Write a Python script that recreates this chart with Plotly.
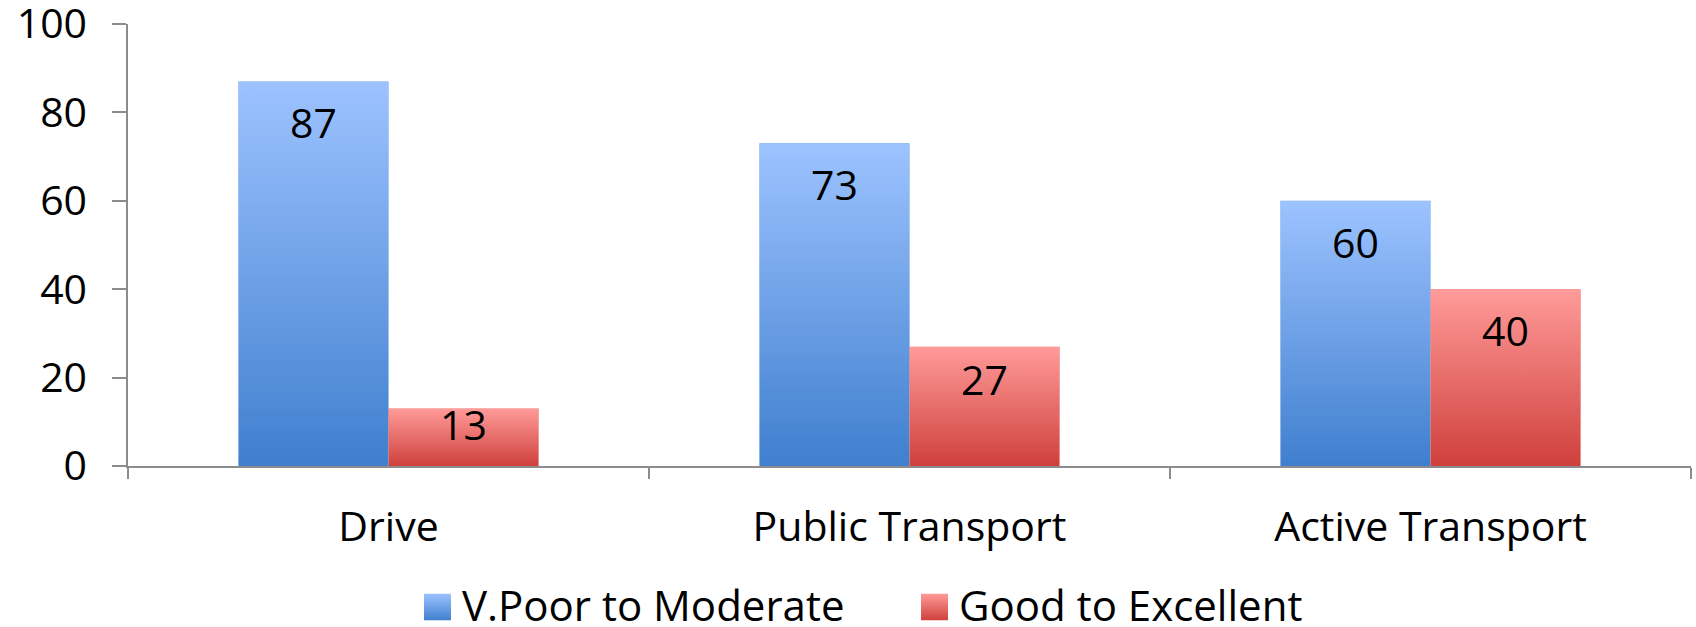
import base64
import plotly.graph_objects as go

categories = ["Drive", "Public Transport", "Active Transport"]
series_names = ["V.Poor to Moderate", "Good to Excellent"]
poor_to_moderate = [87, 73, 60]
good_to_excellent = [13, 27, 40]
y_tick_vals = [0, 20, 40, 60, 80, 100]

FONT = "Open Sans, Carlito, Calibri, sans-serif"
TOP_COLORS = ["#9DC3FF", "#FF9B99"]
BOTTOM_COLORS = ["#3F7FCE", "#CF403C"]
MID_COLORS = ["#6EA1E7", "#E86F6C"]
series_values = [poor_to_moderate, good_to_excellent]


def gradient_uri(top, bottom):
    svg = (
        '<svg xmlns="http://www.w3.org/2000/svg" width="10" height="100" '
        'viewBox="0 0 10 100" preserveAspectRatio="none">'
        '<defs><linearGradient id="g" x1="0" y1="0" x2="0" y2="1">'
        f'<stop offset="0" stop-color="{top}"/><stop offset="1" stop-color="{bottom}"/>'
        '</linearGradient></defs><rect width="10" height="100" fill="url(#g)"/></svg>'
    )
    return "data:image/svg+xml;base64," + base64.b64encode(svg.encode()).decode()


W, H = 1696, 627
M = dict(l=128, r=5, t=24, b=161)
plot_h = H - M["t"] - M["b"]
plot_w = W - M["l"] - M["r"]

bargap = 0.424
bar_w = (1 - bargap) / 2

fig = go.Figure()
for name, vals, col in zip(series_names, series_values, MID_COLORS):
    fig.add_trace(go.Bar(
        x=categories, y=vals, name=name, showlegend=False,
        marker=dict(color=col, line=dict(width=0)),
    ))

images = []
for s, vals in enumerate(series_values):
    uri = gradient_uri(TOP_COLORS[s], BOTTOM_COLORS[s])
    for i, v in enumerate(vals):
        # gradient fill laid over each bar, in data coordinates
        images.append(dict(
            source=uri, xref="x", yref="y",
            x=i + (s - 1) * bar_w, y=v, sizex=bar_w, sizey=v,
            xanchor="left", yanchor="top", sizing="stretch", layer="above",
        ))
        h = v / 100 * plot_h
        shift = -min(41, 0.27 * h)
        fig.add_annotation(
            x=i + (s - 0.5) * bar_w, y=v, xref="x", yref="y",
            text=str(v), showarrow=False, yanchor="middle", yshift=shift,
            font=dict(family=FONT, size=41, color="#000000"),
        )

# legend drawn manually (large square swatches like the original)
legend_swatch_x = [424, 921]
swatch = 27
legend_cy = 604
for s, name in enumerate(series_names):
    x0 = legend_swatch_x[s]
    images.append(dict(
        source=gradient_uri(TOP_COLORS[s], BOTTOM_COLORS[s]),
        xref="paper", yref="paper",
        x=(x0 - M["l"]) / plot_w, y=(H - M["b"] - (legend_cy + 3 - swatch / 2)) / plot_h,
        sizex=swatch / plot_w, sizey=swatch / plot_h,
        xanchor="left", yanchor="top", sizing="stretch", layer="above",
    ))
    fig.add_annotation(
        x=(x0 + swatch + 9 - M["l"]) / plot_w, y=(H - M["b"] - legend_cy) / plot_h,
        xref="paper", yref="paper", text=name, showarrow=False,
        xanchor="left", yanchor="middle",
        font=dict(family=FONT, size=42, color="#000000"),
    )

fig.update_layout(
    width=W, height=H,
    margin=M,
    paper_bgcolor="white", plot_bgcolor="white",
    barmode="group", bargap=bargap, bargroupgap=0,
    font=dict(family=FONT, size=41, color="#000000"),
    showlegend=False,
    images=images,
)
fig.update_xaxes(
    type="category", showgrid=False, showline=True, linecolor="#8C8C8C", linewidth=1.5,
    ticks="outside", tickson="boundaries", ticklen=11, tickcolor="#8C8C8C", tickwidth=1.5,
    ticklabelstandoff=24, tickfont=dict(family=FONT, size=41), automargin=False,
)
fig.update_yaxes(
    range=[0, 100], tickvals=y_tick_vals, showgrid=False, zeroline=False,
    showline=True, linecolor="#8C8C8C", linewidth=1.5,
    ticks="outside", ticklen=14, tickcolor="#8C8C8C", tickwidth=1.5,
    ticklabelstandoff=17, ticklabeloverflow="allow", tickfont=dict(family=FONT, size=41),
    automargin=False,
)

fig.write_html("out.html")
